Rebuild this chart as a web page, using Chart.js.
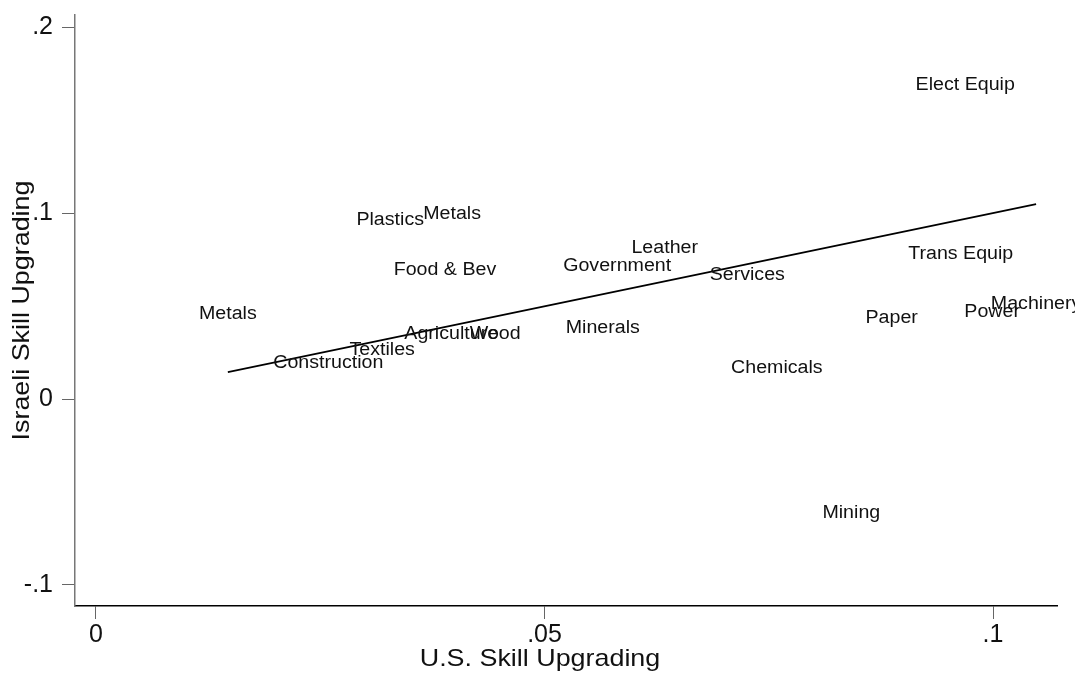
<!DOCTYPE html>
<html>
<head>
<meta charset="utf-8">
<script src="https://cdn.jsdelivr.net/npm/chart.js@4/dist/chart.umd.min.js"></script>
<style>
  html, body { margin: 0; padding: 0; background: #fff; }
  #wrap { width: 1075px; height: 679px; }
</style>
</head>
<body>
<div id="wrap"><canvas id="chart" width="1075" height="679"></canvas></div>
<script>
// industries, U.S. skill upgrading (x) and Israeli skill upgrading (y)
const industries = ['Elect Equip', 'Plastics', 'Metals', 'Leather', 'Government', 'Food & Bev',
  'Services', 'Trans Equip', 'Machinery', 'Metals', 'Power', 'Paper', 'Minerals',
  'Agriculture', 'Wood', 'Textiles', 'Construction', 'Chemicals', 'Mining'];
const usUpgrading = [0.0969, 0.0328, 0.0397, 0.0634, 0.0581, 0.0389,
  0.0726, 0.0964, 0.1048, 0.0147, 0.0999, 0.0887, 0.0565,
  0.0396, 0.0445, 0.0319, 0.0259, 0.0759, 0.0842];
const israelUpgrading = [0.1694, 0.0968, 0.1000, 0.0817, 0.0720, 0.0699,
  0.0672, 0.0785, 0.0516, 0.0462, 0.0473, 0.0441, 0.0387,
  0.0355, 0.0355, 0.0269, 0.0199, 0.0172, -0.0608];

// fitted line end points
const fitX = [0.0147, 0.1048];
const fitY = [0.0145, 0.1048];

const xTicks = [0, 0.05, 0.1];
const yTicks = [-0.1, 0, 0.1, 0.2];

const fmt = v => (v === 0 ? '0' : String(v).replace('0.', '.'));

const labelPlugin = {
  id: 'pointLabels',
  afterDatasetsDraw(chart) {
    const ctx = chart.ctx;
    const meta = chart.getDatasetMeta(0);
    ctx.save();
    ctx.fillStyle = '#111';
    ctx.font = '18px "Liberation Sans", Arial, sans-serif';
    ctx.textAlign = 'center';
    ctx.textBaseline = 'middle';
    meta.data.forEach((pt, i) => {
      ctx.save();
      ctx.translate(pt.x, pt.y);
      ctx.scale(1.09, 1);
      ctx.fillText(industries[i], 0, 1);
      ctx.restore();
    });
    ctx.restore();
  },
  afterDraw(chart) {
    const ctx = chart.ctx;
    const area = chart.chartArea;
    ctx.save();
    ctx.fillStyle = '#111';
    ctx.font = '24px "Liberation Sans", Arial, sans-serif';
    ctx.textAlign = 'center';
    ctx.textBaseline = 'middle';
    // x title
    ctx.save();
    ctx.translate(540, 659);
    ctx.scale(1.12, 1);
    ctx.fillText('U.S. Skill Upgrading', 0, 0);
    ctx.restore();
    // y title
    ctx.save();
    ctx.translate(22, (area.top + area.bottom) / 2);
    ctx.rotate(-Math.PI / 2);
    ctx.scale(1.12, 1);
    ctx.fillText('Israeli Skill Upgrading', 0, 0);
    ctx.restore();
    ctx.restore();
  }
};

const ctx = document.getElementById('chart').getContext('2d');

new Chart(ctx, {
  type: 'scatter',
  data: {
    datasets: [
      {
        label: 'industries',
        data: usUpgrading.map((x, i) => ({ x: x, y: israelUpgrading[i] })),
        pointRadius: 0,
        pointHoverRadius: 0,
      },
      {
        type: 'line',
        label: 'fit',
        data: fitX.map((x, i) => ({ x: x, y: fitY[i] })),
        borderColor: '#000',
        borderWidth: 1.7,
        pointRadius: 0,
        fill: false,
      },
    ],
  },
  options: {
    responsive: false,
    animation: false,
    devicePixelRatio: 1,
    layout: { padding: { top: 15, right: 18, left: 0, bottom: 0 } },
    plugins: {
      legend: { display: false },
      tooltip: { enabled: false },
    },
    scales: {
      x: {
        type: 'linear',
        min: -0.00234,
        max: 0.10713,
        afterBuildTicks: s => { s.ticks = xTicks.map(v => ({ value: v })); },
        afterFit: s => { s.height = 73; s.paddingLeft = 0; s.paddingRight = 0; },
        grid: { drawOnChartArea: false, drawTicks: true, tickLength: 13, color: '#666', lineWidth: 1 },
        border: { display: true, color: '#000', width: 1.5 },
        ticks: {
          callback: v => fmt(v),
          color: '#111',
          font: { family: '"Liberation Sans", Arial, sans-serif', size: 25 },
          padding: 1,
          maxRotation: 0,
        },
      },
      y: {
        type: 'linear',
        min: -0.1113,
        max: 0.2065,
        afterBuildTicks: s => { s.ticks = yTicks.map(v => ({ value: v })); },
        afterFit: s => { s.width = 75; s.paddingTop = 0; s.paddingBottom = 0; },
        grid: { drawOnChartArea: false, drawTicks: true, tickLength: 13, color: '#666', lineWidth: 1 },
        border: { display: true, color: '#777', width: 1.5 },
        ticks: {
          callback: v => fmt(v),
          color: '#111',
          font: { family: '"Liberation Sans", Arial, sans-serif', size: 25 },
          padding: 9,
        },
      },
    },
  },
  plugins: [labelPlugin],
});
</script>
</body>
</html>
